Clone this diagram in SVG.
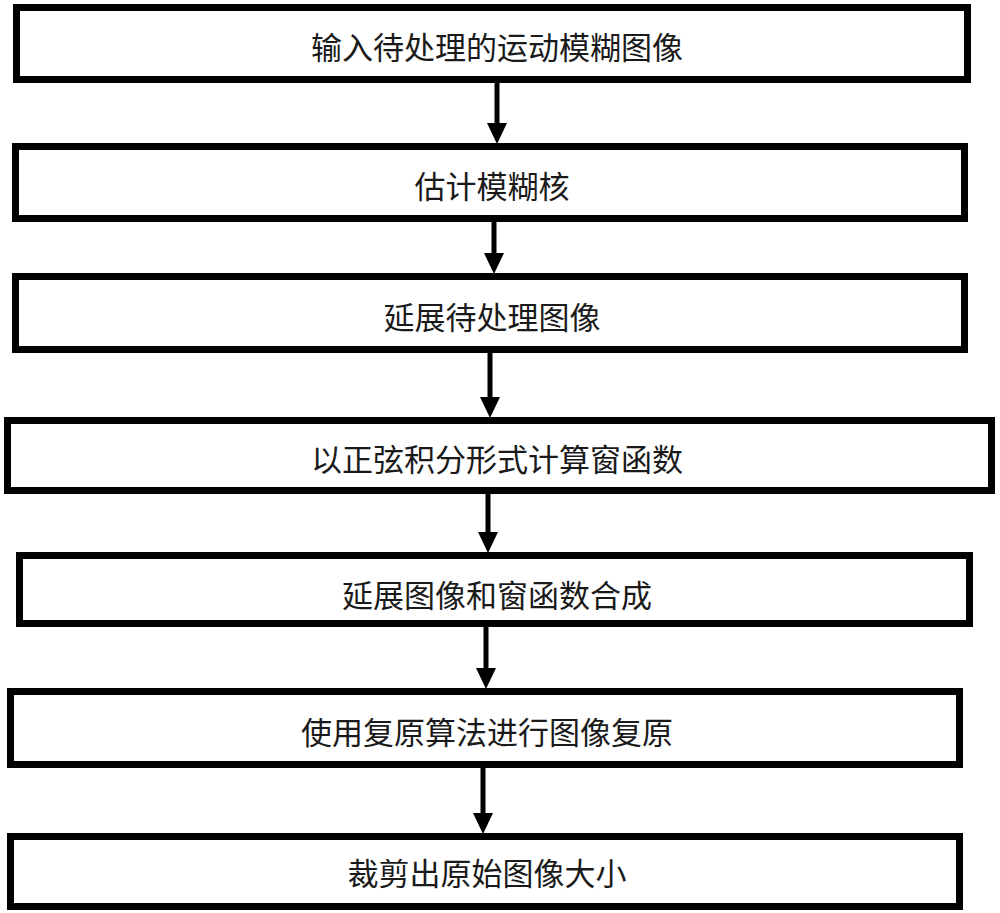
<svg xmlns="http://www.w3.org/2000/svg" width="1000" height="913" viewBox="0 0 1000 913">
<defs>
<style>
.box{fill:#ffffff;stroke:#000000;stroke-width:7}
.lbl{font-family:"Noto Sans CJK SC","Noto Sans",sans-serif;font-size:31px;fill:#1a1a1a;text-anchor:middle;dominant-baseline:central}
.shaft{stroke:#000000;stroke-width:5;fill:none}
.head{fill:#000000}
</style>
</defs>
<rect x="0" y="0" width="1000" height="913" fill="#ffffff"/>
<g id="connectors">
<line class="shaft" x1="497" y1="83" x2="497" y2="128"/>
<polygon class="head" points="487,123 507,123 497,144"/>
<line class="shaft" x1="494" y1="222" x2="494" y2="258"/>
<polygon class="head" points="484,253 504,253 494,274"/>
<line class="shaft" x1="490" y1="353" x2="490" y2="402"/>
<polygon class="head" points="480,397 500,397 490,418"/>
<line class="shaft" x1="488" y1="494" x2="488" y2="537"/>
<polygon class="head" points="478,532 498,532 488,553"/>
<line class="shaft" x1="486" y1="627" x2="486" y2="673"/>
<polygon class="head" points="476,668 496,668 486,689"/>
<line class="shaft" x1="483" y1="768" x2="483" y2="818"/>
<polygon class="head" points="473,813 493,813 483,834"/>
</g>
<g id="node1">
<rect class="box" x="16.5" y="7.5" width="951" height="72"/>
<text class="lbl" x="497" y="45">输入待处理的运动模糊图像</text>
</g>
<g id="node2">
<rect class="box" x="15.5" y="146.5" width="949" height="72"/>
<text class="lbl" x="492" y="184">估计模糊核</text>
</g>
<g id="node3">
<rect class="box" x="15.5" y="276.5" width="949" height="73"/>
<text class="lbl" x="492" y="315">延展待处理图像</text>
</g>
<g id="node4">
<rect class="box" x="7.5" y="420.5" width="984" height="70"/>
<text class="lbl" x="497" y="457">以正弦积分形式计算窗函数</text>
</g>
<g id="node5">
<rect class="box" x="19.5" y="555.5" width="950" height="68"/>
<text class="lbl" x="497" y="593">延展图像和窗函数合成</text>
</g>
<g id="node6">
<rect class="box" x="10.5" y="691.5" width="949" height="73"/>
<text class="lbl" x="487" y="730">使用复原算法进行图像复原</text>
</g>
<g id="node7">
<rect class="box" x="10.5" y="836.5" width="949" height="70"/>
<text class="lbl" x="487" y="871">裁剪出原始图像大小</text>
</g>
</svg>
